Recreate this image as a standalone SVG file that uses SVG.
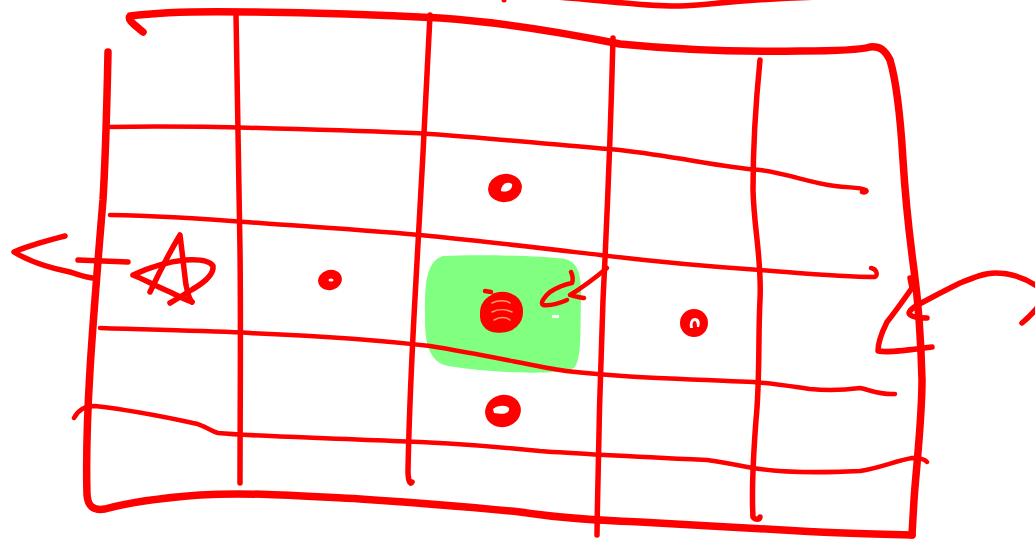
<svg xmlns="http://www.w3.org/2000/svg" width="1035" height="540" viewBox="0 0 1035 540">
<style>
.s{fill:none;stroke:#ff0000;stroke-linecap:round;stroke-linejoin:round}
.w3{stroke-width:3.5}.w4{stroke-width:4.5}.w5{stroke-width:5.5}.w6{stroke-width:6.5}.w7{stroke-width:7.5}
.dot{fill:#ff0000}
.hole{fill:#ffffff}
</style>
<rect width="1035" height="540" fill="#ffffff"/>
<g id="highlight">
<path d="M443,256 C480,254 540,256 565,259 C578,262 582,275 581,300 C580,330 582,360 574,368 C560,375 500,374 448,366 C430,362 425,345 425,320 C425,290 424,262 443,256 Z" fill="#80ff80"/>
<rect x="552" y="315" width="7" height="3" fill="#ffffff"/>
</g>
<g id="grid">
<!-- outer border -->
<path class="s w7" d="M143,32 C135,25 127,20 130,16 C160,12 200,11 250,12 C330,13 400,16 440,18 C500,22 560,32 620,44 C680,50 740,52 800,51 C840,51 860,50 870,47 C880,46 885,50 890,60 C896,80 900,110 903,160 C906,210 910,240 914,270 C918,300 921,340 922,380 C922,420 916,470 914,500 L912,535"/>
<path class="s w7" d="M912,535 C870,534 830,533 800,531 C750,528 700,525 640,522 C590,520 560,518 520,512 C480,508 420,503 360,499 C300,496 250,492 200,495 C160,498 130,502 105,509 C93,511 88,506 87,495 C86,460 87,420 90,370 C93,320 98,260 103,200 C106,150 107,100 108,52"/>
<!-- verticals -->
<path class="s w5" d="M236,14 C237,100 239,180 240,250 C241,330 240,420 240,483"/>
<path class="s w5" d="M430,15 C426,90 421,200 416,280 C412,350 409,420 408,470 C408,480 410,486 412,482"/>
<path class="s w5" d="M613,38 C611,120 607,220 603,300 C600,380 598,460 597,535"/>
<path class="s w5" d="M760,60 C756,100 753,140 753,190 C754,230 762,260 760,300 C758,340 760,380 756,420 C753,460 752,500 753,517 C755,520 760,520 760,517"/>
<!-- horizontals -->
<path class="s w4" d="M107,127 C160,126 220,127 260,128 C330,130 380,131 430,134 C500,139 560,145 620,150 C680,157 720,167 760,170 C790,174 810,183 835,186 C850,188 860,187 866,190 C868,192 864,193 862,192"/>
<path class="s w4" d="M110,215 C170,216 220,220 260,223 C330,228 380,231 430,236 C490,242 540,248 600,255 C650,261 700,266 760,270 C800,273 840,277 875,277 C878,275 877,269 871,268"/>
<path class="s w4" d="M100,328 C160,330 210,331 250,333 C320,336 380,340 430,346 C480,354 530,365 560,370 C600,376 660,378 753,382 C780,384 795,387 810,389 C830,391 845,390 860,388 C870,390 880,395 895,394"/>
<path class="s w4" d="M74,418 C78,410 84,406 95,406 C130,410 170,418 193,423 C205,425 210,431 218,433 C250,436 300,437 393,441 C430,442 470,444 540,451 C580,454 620,456 707,460 C730,463 745,467 760,469 C780,472 820,473 860,471 C880,468 895,461 912,458 C920,458 925,459 927,462"/>
<!-- top edge fragments -->
<path class="s w5" d="M556,-3 C600,0 650,7 680,6 C710,5 740,-1 822,-3"/>
<circle class="dot" cx="504" cy="0" r="2.5"/>
</g>
<g id="cells">
<g id="dot-top">
<ellipse class="dot" cx="505" cy="188" rx="17" ry="14" transform="rotate(-10 505 188)"/>
<path class="hole" d="M501,190 C502,184 507,181 512,184 C513,189 508,193 501,191 Z"/>
</g>
<g id="dot-bottom">
<ellipse class="dot" cx="503" cy="411" rx="18" ry="16" transform="rotate(-15 503 411)"/>
<path class="hole" d="M493,409 C498,405 506,405 509,408 C510,413 504,415 494,413 Z"/>
</g>
<g id="dot-left">
<ellipse class="dot" cx="330" cy="280" rx="12" ry="10" transform="rotate(-15 330 280)"/>
<ellipse class="hole" cx="331" cy="280" rx="2.5" ry="1.5"/>
</g>
<g id="dot-right">
<ellipse class="dot" cx="694" cy="323" rx="14" ry="14"/>
<path class="hole" d="M690,328 C689,321 692,318 695,318 C699,318 701,322 699,327 L697,327 C697,323 696,321 695,321 C693,321 692,323 693,328 Z"/>
</g>
<g id="center">
<ellipse class="dot" cx="501" cy="312" rx="21" ry="19"/>
<path class="s w5" d="M484,310 C480,320 486,330 498,330 C512,331 522,322 520,308 C518,296 504,292 494,296"/>
<path d="M492,303 C498,300 506,300 510,303 M492,312 C498,309 506,309 512,312 M494,320 C500,317 506,317 510,320" fill="none" stroke="#ff9b6b" stroke-width="1.5" stroke-linecap="round"/>
<path class="s w4" d="M485,291 L491,292"/>
</g>
<g id="pointer">
<path class="s w4" d="M607,268 C595,278 580,289 570,295 C575,297 580,297 584,298"/>
<path class="s w4" d="M571,272 C573,276 573,280 572,283 C566,284 558,287 550,292 C544,297 540,303 543,305 C550,306 558,304 567,300"/>
</g>
<g id="left-arrow">
<path class="s w5" d="M65,236 C50,240 30,245 14,252 C30,262 50,268 70,272 C80,275 88,278 93,278"/>
<path class="s w5" d="M78,260 L128,262"/>
</g>
<g id="star">
<path class="s w5" d="M150,292 C158,275 168,255 180,235 C182,250 184,270 186,285 C188,295 190,300 192,302"/>
<path class="s w5" d="M133,275 C145,280 158,287 170,292 C178,296 186,300 192,302 M133,275 C148,268 165,262 185,260 C200,259 210,261 213,266 C214,274 205,282 193,289 C185,294 177,299 170,303"/>
</g>
<g id="right-sketch">
<path class="s w5" d="M910,278 L912,288 C905,298 895,312 887,322 C882,332 878,342 878,351 C890,353 910,350 932,347"/>
<path class="s w5" d="M927,318 C918,318 910,317 909,313 C910,309 915,306 927,300 C940,293 950,288 960,283 C975,277 985,273 995,273 C1010,273 1023,277 1035,285"/>
<path class="s w5" d="M1022,323 C1028,318 1032,314 1037,308"/>
</g>
</g>
</svg>
